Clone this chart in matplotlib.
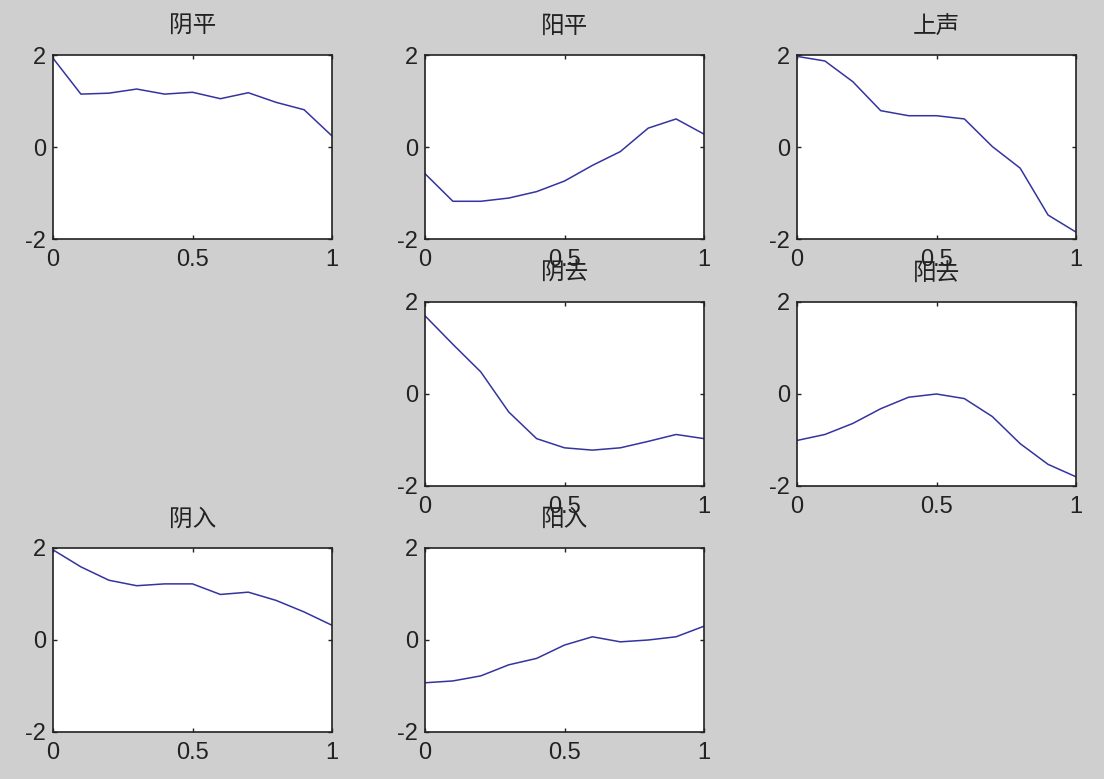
import matplotlib
matplotlib.use("Agg")
import matplotlib.pyplot as plt
import numpy as np

# normalised pitch contours, sampled at t = 0, 0.1, ..., 1
t = np.linspace(0, 1, 11)

yin_ping = [1.93, 1.15, 1.17, 1.26, 1.15, 1.19, 1.05, 1.18, 0.97, 0.81, 0.24]
yang_ping = [-0.58, -1.18, -1.18, -1.11, -0.97, -0.74, -0.40, -0.10, 0.41, 0.61, 0.28]
shang_sheng = [1.97, 1.87, 1.42, 0.79, 0.68, 0.68, 0.61, 0.01, -0.46, -1.48, -1.85]
yin_qu = [1.70, 1.08, 0.48, -0.39, -0.97, -1.17, -1.22, -1.17, -1.03, -0.88, -0.97]
yang_qu = [-1.01, -0.88, -0.64, -0.32, -0.07, 0.00, -0.10, -0.49, -1.08, -1.53, -1.80]
yin_ru = [1.96, 1.59, 1.30, 1.18, 1.22, 1.22, 0.99, 1.04, 0.86, 0.61, 0.32]
yang_ru = [-0.93, -0.89, -0.78, -0.54, -0.40, -0.11, 0.07, -0.04, 0.00, 0.07, 0.30]

titles = ["阴平", "阳平", "上声", "阴去", "阳去", "阴入", "阳入"]
curves = [yin_ping, yang_ping, shang_sheng, yin_qu, yang_qu, yin_ru, yang_ru]
slots = [(0, 0), (0, 1), (0, 2), (1, 1), (1, 2), (2, 0), (2, 1)]  # (row, col)

W, H = 1104, 779
col_x = [53, 425, 797]
row_y = [55, 302, 548]
ax_w, ax_h = 279, 184

tick_font = ["Liberation Sans", "DejaVu Sans"]
title_font = ["Noto Sans CJK SC", "DejaVu Sans"]

fig = plt.figure(figsize=(W / 100, H / 100), dpi=100)
fig.patch.set_facecolor("#cfcfcf")

for name, y, (r, c) in zip(titles, curves, slots):
    ax = fig.add_axes([col_x[c] / W, 1 - (row_y[r] + ax_h) / H, ax_w / W, ax_h / H])
    ax.plot(t, y, color="#3434a0", lw=1.1)
    ax.set_xlim(0, 1)
    ax.set_ylim(-2, 2)
    ax.set_xticks([0, 0.5, 1])
    ax.set_xticklabels(["0", "0.5", "1"])
    ax.set_yticks([-2, 0, 2])
    ax.set_yticklabels(["-2", "0", "2"])
    ax.tick_params(direction="in", length=3, width=1, top=True, right=True,
                   labelsize=17, colors="#222222")
    ax.tick_params(axis="x", pad=7)
    ax.tick_params(axis="y", pad=5)
    for lab in ax.get_xticklabels() + ax.get_yticklabels():
        lab.set_family(tick_font)
    for s in ax.spines.values():
        s.set_linewidth(1.2)
        s.set_color("#222222")
    ax.set_title(name, family=title_font, fontsize=17, pad=16, color="#222222")

fig.savefig("out.png", dpi=100, facecolor=fig.get_facecolor())
